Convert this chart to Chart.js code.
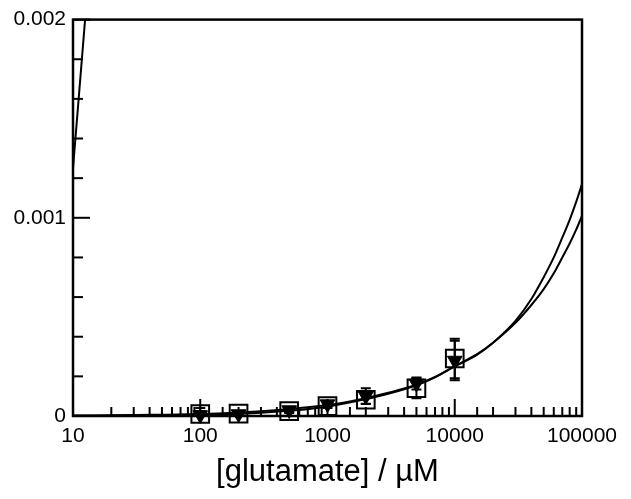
<!DOCTYPE html>
<html>
<head>
<meta charset="utf-8">
<script src="https://cdn.jsdelivr.net/npm/chart.js@4.4.1/dist/chart.umd.min.js"></script>
<style>
  html, body { margin: 0; padding: 0; background: #fff; }
  #wrap { width: 631px; height: 499px; }
</style>
</head>
<body>
<div id="wrap"><canvas id="chart" width="631" height="499"></canvas></div>
<script>
// data
const concX = [100, 200, 500, 1000, 2000, 5000, 10000];
const squareVals = [0.00001, 0.000012, 0.000025, 0.00005, 0.000082, 0.00014, 0.00029];
const squareErr = [0.00003, 0.00001, 0.00001, 0.00001, 0.00002, 0.00005, 0.0001];
const triVals = [0.000005, 0.00001, 0.00003, 0.00006, 0.0001, 0.000164, 0.00028];
const triErr = [0.00002, 0.00001, 0.00001, 0.00001, 0.00004, 0.00003, 0.0001];

// fitted curves
const fitX = [10, 30, 100, 300, 1000, 2000, 3000, 5000, 7000, 10000, 15000, 20000, 30000, 40000, 50000, 60000, 70000, 80000, 90000, 100000];
const fitA = [0.000001, 0.000003, 0.000007, 0.000017, 0.000047, 0.000085, 0.000112, 0.000155, 0.000195, 0.00025, 0.00031, 0.00037, 0.00048, 0.00059, 0.0007, 0.0008, 0.0009, 0.00099, 0.00108, 0.00117];
const fitB = [0.000002, 0.000005, 0.00001, 0.000024, 0.000055, 0.00009, 0.000117, 0.000158, 0.000197, 0.000252, 0.000312, 0.00037, 0.00047, 0.00056, 0.00064, 0.00072, 0.0008, 0.00087, 0.00094, 0.00101];
const steepX = [10, 13];
const steepY = [0.00125, 0.00215];

const xTickLabels = [10, 100, 1000, 10000, 100000];
const yTickLabels = [0, 0.001, 0.002];

function pts(xs, ys) {
  return xs.map(function (x, i) { return { x: x, y: ys[i] }; });
}

const isPow10 = function (v) {
  const l = Math.log10(v);
  return Math.abs(l - Math.round(l)) < 1e-9;
};
const isYLabel = function (v) {
  return yTickLabels.some(function (t) { return Math.abs(t - v) < 1e-9; });
};

// frame + inward ticks
const framePlugin = {
  id: "frame",
  afterDraw(chart) {
    const ctx = chart.ctx;
    const a = chart.chartArea;
    const xs = chart.scales.x;
    const ys = chart.scales.y;
    ctx.save();
    ctx.strokeStyle = "#000";
    ctx.lineWidth = 2;
    xs.ticks.forEach(function (t) {
      const px = xs.getPixelForValue(t.value);
      const len = isPow10(t.value) ? 17 : 9;
      ctx.beginPath();
      ctx.moveTo(px, a.bottom);
      ctx.lineTo(px, a.bottom - len);
      ctx.stroke();
    });
    ys.ticks.forEach(function (t) {
      const py = ys.getPixelForValue(t.value);
      const len = isYLabel(t.value) ? 17 : 10;
      ctx.beginPath();
      ctx.moveTo(a.left, py);
      ctx.lineTo(a.left + len, py);
      ctx.stroke();
    });
    ctx.lineWidth = 2.5;
    ctx.strokeRect(a.left, a.top, a.right - a.left, a.bottom - a.top);
    ctx.restore();
  },
};

// error bars
const errorPlugin = {
  id: "errbars",
  afterDatasetsDraw(chart) {
    const ctx = chart.ctx;
    const xs = chart.scales.x;
    const ys = chart.scales.y;
    const a = chart.chartArea;
    ctx.save();
    ctx.beginPath();
    ctx.rect(a.left, a.top, a.right - a.left, a.bottom - a.top);
    ctx.clip();
    ctx.strokeStyle = "#000";
    ctx.lineWidth = 2;
    [[squareVals, squareErr], [triVals, triErr]].forEach(function (s) {
      concX.forEach(function (x, i) {
        const px = xs.getPixelForValue(x);
        const top = ys.getPixelForValue(s[0][i] + s[1][i]);
        const bot = ys.getPixelForValue(s[0][i] - s[1][i]);
        ctx.beginPath();
        ctx.moveTo(px, top);
        ctx.lineTo(px, bot);
        ctx.moveTo(px - 5, top);
        ctx.lineTo(px + 5, top);
        ctx.moveTo(px - 5, bot);
        ctx.lineTo(px + 5, bot);
        ctx.stroke();
      });
    });
    ctx.restore();
  },
};

const lineDs = function (data) {
  return {
    data: data,
    showLine: true,
    borderColor: "#000",
    borderWidth: 2,
    pointRadius: 0,
    cubicInterpolationMode: "monotone",
    fill: false,
  };
};

new Chart(document.getElementById("chart"), {
  type: "scatter",
  data: {
    datasets: [
      lineDs(pts(fitX, fitA)),
      lineDs(pts(fitX, fitB)),
      lineDs(pts(steepX, steepY)),
      {
        data: pts(concX, squareVals),
        pointStyle: "rect",
        pointRadius: 12.5,
        pointBorderWidth: 2,
        pointBorderColor: "#000",
        pointBackgroundColor: "rgba(0,0,0,0)",
        showLine: false,
        clip: false,
      },
      {
        data: pts(concX, triVals),
        pointStyle: "triangle",
        pointRotation: 180,
        pointRadius: 8.5,
        pointBorderWidth: 1,
        pointBorderColor: "#000",
        pointBackgroundColor: "#000",
        showLine: false,
        clip: false,
      },
    ],
  },
  options: {
    responsive: false,
    animation: false,
    layout: { padding: { top: 14, right: 49, left: 0, bottom: 0 } },
    plugins: { legend: { display: false }, tooltip: { enabled: false } },
    scales: {
      x: {
        type: "logarithmic",
        min: 10,
        max: 100000,
        grid: { display: false, drawTicks: false },
        border: { display: false },
        ticks: {
          autoSkip: false,
          maxRotation: 0,
          padding: 8,
          color: "#000",
          font: { family: "Liberation Sans", size: 21 },
          callback: function (v) {
            return xTickLabels.indexOf(v) >= 0 ? String(v) : "";
          },
        },
        title: {
          display: true,
          text: "[glutamate] / µM",
          color: "#000",
          font: { family: "Liberation Sans", size: 31 },
          padding: { top: 0, bottom: 8 },
        },
        afterFit: function (s) { s.height = 83; },
      },
      y: {
        min: 0,
        max: 0.002,
        grid: { display: false, drawTicks: false },
        border: { display: false },
        ticks: {
          stepSize: 0.0002,
          autoSkip: false,
          padding: 7,
          color: "#000",
          font: { family: "Liberation Sans", size: 21 },
          callback: function (v) {
            if (!isYLabel(v)) return "";
            return Math.abs(v) < 1e-12 ? "0" : v.toFixed(3);
          },
        },
        afterFit: function (s) { s.width = 73; },
      },
    },
  },
  plugins: [framePlugin, errorPlugin],
});
</script>
</body>
</html>
